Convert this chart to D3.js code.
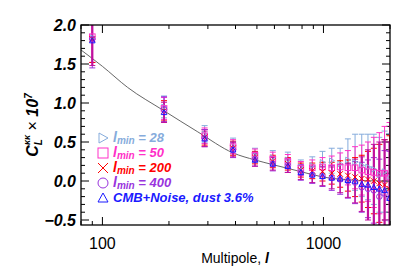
<!DOCTYPE html>
<html>
<head>
<meta charset="utf-8">
<script src="https://cdn.jsdelivr.net/npm/d3@7"></script>
<style>
  body { margin: 0; background: #fff; }
  text { font-family: "Liberation Sans", Arial, sans-serif; }
</style>
</head>
<body>
<script>
// bin centres (multipole)
var ells = [90,190,290,390,490,590,690,790,890,990,1090,1190,1290,1390,1490,1590,1690,1790,1890,1990];

// l_min = 28
var lmin28 = [1.84,0.95,0.60,0.45,0.33,0.30,0.27,0.18,0.20,0.24,0.26,0.22,0.27,0.24,0.20,0.18,0.15,0.08,0.12,0.05];
var lmin28Err = [0.32,0.14,0.11,0.10,0.09,0.09,0.10,0.09,0.11,0.14,0.16,0.20,0.27,0.36,0.40,0.42,0.45,0.48,0.52,0.56];
// l_min = 50
var lmin50 = [1.85,0.93,0.58,0.44,0.33,0.28,0.25,0.16,0.17,0.18,0.17,0.18,0.17,0.17,0.14,0.12,0.11,0.10,0.10,0.05];
var lmin50Err = [0.33,0.14,0.10,0.09,0.08,0.09,0.09,0.09,0.10,0.12,0.15,0.18,0.22,0.27,0.32,0.38,0.45,0.52,0.60,0.70];
// l_min = 200
var lmin200 = [1.82,0.90,0.56,0.42,0.30,0.25,0.22,0.14,0.13,0.12,0.10,0.09,0.07,0.05,0.03,0.02,0.00,-0.03,-0.05,-0.10];
var lmin200Err = [0.30,0.13,0.10,0.09,0.08,0.08,0.08,0.09,0.10,0.12,0.14,0.17,0.20,0.25,0.30,0.36,0.42,0.50,0.58,0.68];
// l_min = 400
var lmin400 = [1.82,0.92,0.55,0.40,0.28,0.22,0.20,0.11,0.08,0.06,0.04,0.02,0.00,-0.02,-0.08,-0.10,-0.12,-0.20,-0.16,-0.22];
var lmin400Err = [0.37,0.16,0.11,0.10,0.09,0.09,0.09,0.10,0.11,0.13,0.16,0.19,0.22,0.27,0.32,0.37,0.42,0.48,0.55,0.60];
// CMB+Noise, dust 3.6%
var cmbNoise = [1.80,0.88,0.54,0.40,0.27,0.22,0.19,0.11,0.08,0.06,0.04,0.03,0.01,0.00,-0.04,-0.05,-0.08,-0.10,-0.12,-0.22];
var cmbNoiseErr = [0.32,0.13,0.10,0.09,0.08,0.08,0.08,0.09,0.10,0.12,0.14,0.18,0.22,0.28,0.35,0.45,0.55,0.60,0.65,0.72];

// theory curve
var theoryEll = [80,100,130,190,270,390,490,590,790,1000,1300,1600,2000];
var theoryVal = [1.68,1.47,1.20,0.90,0.63,0.36,0.27,0.21,0.12,0.05,0.015,0.003,0.0];

var yTicks = [-0.5,0.0,0.5,1.0,1.5,2.0];
var xTickLabels = [100,1000];

var series = [
  {name: "28",  vals: lmin28,  errs: lmin28Err,  color: "#86acdc", marker: "rtri"},
  {name: "50",  vals: lmin50,  errs: lmin50Err,  color: "#ff30c8", marker: "square"},
  {name: "200", vals: lmin200, errs: lmin200Err, color: "#ff0000", marker: "cross"},
  {name: "400", vals: lmin400, errs: lmin400Err, color: "#9933dd", marker: "circle"},
  {name: "cmb", vals: cmbNoise, errs: cmbNoiseErr, color: "#1a1aff", marker: "tri", barColor: "#c0109e"}
];

var W = 415, H = 277;
var margin = {top: 25, right: 25, bottom: 52, left: 81},
    width = W - margin.left - margin.right,
    height = H - margin.top - margin.bottom;

var x = d3.scaleLog().domain([80, 2000]).range([0, width]);
var y = d3.scaleLinear().domain([-0.564, 2.0]).range([height, 0]);

var svg = d3.select("body").append("svg")
    .attr("width", W)
    .attr("height", H)
    .append("g")
    .attr("transform", "translate(" + margin.left + "," + margin.top + ")");

svg.append("clipPath")
    .attr("id", "plot-clip")
    .append("rect")
    .attr("x", 0).attr("y", 0)
    .attr("width", width).attr("height", height);

// minor/major tick lists
var xMinor = [];
[10, 100, 1000].forEach(function(dec) {
  for (var k = 1; k < 10; k++) {
    var v = dec * k;
    if (v >= 80 && v <= 2000) xMinor.push(v);
  }
});
var yMinor = d3.range(-5, 21).map(function(d) { return d / 10; });

// x ticks (bottom and top, inward)
xMinor.forEach(function(v) {
  var major = (v === 100 || v === 1000);
  var L = major ? 8 : 4;
  svg.append("line").attr("x1", x(v)).attr("x2", x(v))
    .attr("y1", height).attr("y2", height - L)
    .attr("stroke", "#000").attr("stroke-width", 1);
  svg.append("line").attr("x1", x(v)).attr("x2", x(v))
    .attr("y1", 0).attr("y2", L)
    .attr("stroke", "#000").attr("stroke-width", 1);
});

// y ticks (left and right, inward)
yMinor.forEach(function(v) {
  var major = Math.abs(v * 2 - Math.round(v * 2)) < 1e-6;
  var L = major ? 8 : 4;
  svg.append("line").attr("x1", 0).attr("x2", L)
    .attr("y1", y(v)).attr("y2", y(v))
    .attr("stroke", "#000").attr("stroke-width", 1);
  svg.append("line").attr("x1", width).attr("x2", width - L)
    .attr("y1", y(v)).attr("y2", y(v))
    .attr("stroke", "#000").attr("stroke-width", 1);
});

// tick labels
svg.selectAll(".ytl")
    .data(yTicks)
    .enter()
    .append("text")
    .attr("x", -5)
    .attr("y", function(d) { return y(d) + 6; })
    .attr("text-anchor", "end")
    .style("font-size", "16px")
    .style("font-weight", "bold")
    .style("font-style", "italic")
    .text(function(d) { return d3.format(".1f")(d).replace("-", "\u2212"); });

svg.selectAll(".xtl")
    .data(xTickLabels)
    .enter()
    .append("text")
    .attr("x", function(d) { return x(d); })
    .attr("y", height + 24)
    .attr("text-anchor", "middle")
    .style("font-size", "16px")
    .text(function(d) { return d; });

// theory line
var line = d3.line()
    .curve(d3.curveMonotoneX)
    .x(function(d, i) { return x(theoryEll[i]); })
    .y(function(d) { return y(d); });

svg.append("path")
    .datum(theoryVal)
    .attr("clip-path", "url(#plot-clip)")
    .attr("d", line)
    .attr("fill", "none")
    .attr("stroke", "#555")
    .attr("stroke-width", 0.9);

// error bars
var gErr = svg.append("g").attr("clip-path", "url(#plot-clip)");
series.forEach(function(s) {
  var col = s.barColor || s.color;
  ells.forEach(function(l, i) {
    var sw = s.barColor ? (l > 1400 || l < 100 ? 2.2 : 1.4) : 1;
    var cx = x(l), lo = y(s.vals[i] - s.errs[i]), hi = y(s.vals[i] + s.errs[i]);
    gErr.append("line").attr("x1", cx).attr("x2", cx).attr("y1", lo).attr("y2", hi)
      .attr("stroke", col).attr("stroke-width", sw);
    [lo, hi].forEach(function(yy) {
      gErr.append("line").attr("x1", cx - 3).attr("x2", cx + 3).attr("y1", yy).attr("y2", yy)
        .attr("stroke", col).attr("stroke-width", 1);
    });
  });
});

// markers
function drawMarker(g, type, cx, cy, col, r) {
  if (type === "square") {
    g.append("rect").attr("x", cx - r).attr("y", cy - r).attr("width", 2 * r).attr("height", 2 * r)
      .attr("fill", "none").attr("stroke", col).attr("stroke-width", 1);
  } else if (type === "circle") {
    g.append("circle").attr("cx", cx).attr("cy", cy).attr("r", r)
      .attr("fill", "none").attr("stroke", col).attr("stroke-width", 1);
  } else if (type === "cross") {
    g.append("path").attr("d", "M" + (cx - r) + "," + (cy - r) + "L" + (cx + r) + "," + (cy + r) +
        "M" + (cx - r) + "," + (cy + r) + "L" + (cx + r) + "," + (cy - r))
      .attr("stroke", col).attr("stroke-width", 1);
  } else if (type === "tri") {
    g.append("path").attr("d", "M" + cx + "," + (cy - r) + "L" + (cx + r) + "," + (cy + r * 0.8) +
        "L" + (cx - r) + "," + (cy + r * 0.8) + "Z")
      .attr("fill", "none").attr("stroke", col).attr("stroke-width", 1);
  } else if (type === "rtri") {
    g.append("path").attr("d", "M" + (cx + r) + "," + cy + "L" + (cx - r * 0.8) + "," + (cy - r) +
        "L" + (cx - r * 0.8) + "," + (cy + r) + "Z")
      .attr("fill", "none").attr("stroke", col).attr("stroke-width", 1);
  }
}

var gMk = svg.append("g").attr("clip-path", "url(#plot-clip)");
series.forEach(function(s) {
  ells.forEach(function(l, i) {
    drawMarker(gMk, s.marker, x(l), y(s.vals[i]), s.color, 2.8);
  });
});

// frame
svg.append("rect")
    .attr("x", 0).attr("y", 0)
    .attr("width", width).attr("height", height)
    .attr("fill", "none")
    .attr("stroke", "#000")
    .attr("stroke-width", 1.3);

// legend
var legY = [138, 153, 168, 183, 198];
series.forEach(function(s, i) {
  var ly = legY[i] - margin.top;
  drawMarker(svg, s.marker, 103 - margin.left, ly, s.color, 5);
  var t = svg.append("text")
      .attr("x", 113 - margin.left)
      .attr("y", ly + 4)
      .attr("fill", s.color)
      .style("font-size", "13px")
      .style("font-weight", "bold")
      .style("font-style", "italic");
  if (s.name === "cmb") {
    t.text("CMB+Noise, dust 3.6%");
  } else {
    t.append("tspan").style("font-size", "14px").text("l");
    t.append("tspan").attr("dy", 2).style("font-size", "10px").text("min");
    t.append("tspan").attr("dy", -2).style("font-size", "13px").text(" = " + s.name);
  }
});

// axis titles
svg.append("text")
    .attr("x", 235 - margin.left)
    .attr("y", 263 - margin.top)
    .attr("text-anchor", "middle")
    .style("font-size", "14px")
    .text("Multipole, ")
    .append("tspan")
    .style("font-weight", "bold")
    .style("font-style", "italic")
    .text("l");

var yl = svg.append("text")
    .attr("transform", "translate(" + (38 - margin.left) + "," + (125 - margin.top) + ") rotate(-90)")
    .attr("text-anchor", "middle")
    .style("font-size", "16px")
    .style("font-weight", "bold")
    .style("font-style", "italic");
yl.append("tspan").text("C");
yl.append("tspan").attr("dy", 4).style("font-size", "10px").text("L");
yl.append("tspan").attr("dx", -6).attr("dy", -12).style("font-size", "9px").text("\u03ba\u03ba");
yl.append("tspan").attr("dy", 8).style("font-style", "normal").style("font-weight", "normal").text(" \u00d7 ");
yl.append("tspan").text("10");
yl.append("tspan").attr("dy", -6).style("font-size", "10px").text("7");
</script>
</body>
</html>
